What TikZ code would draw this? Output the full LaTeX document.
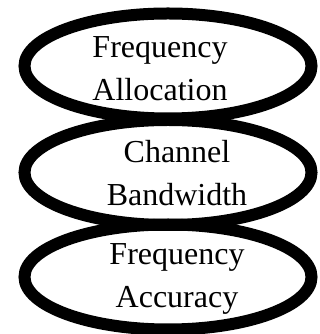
\documentclass[tikz,border=0pt]{standalone}
\usepackage{fontspec}
\setmainfont{Liberation Serif}
\usetikzlibrary{shapes.geometric}
\begin{document}
\begin{tikzpicture}[x=1pt,y=1pt,
  oval/.style={draw=black, ellipse, line width=12pt, minimum width=287pt, minimum height=105pt, inner sep=0pt},
  label/.style={align=center, inner sep=0pt, font=\fontsize{32}{43}\selectfont}]
\useasboundingbox (0,0) rectangle (320,334);
\node[oval] (e1) at (168,268) {};
\node[oval] (e2) at (168,161.5) {};
\node[oval] (e3) at (168,57) {};
\node[label] (t1) at (160,265) {Frequency\\Allocation};
\node[label] (t2) at (177,161) {Channel\\Bandwidth};
\node[label] (t3) at (177,55) {Frequency\\Accuracy};
\end{tikzpicture}
\end{document}
